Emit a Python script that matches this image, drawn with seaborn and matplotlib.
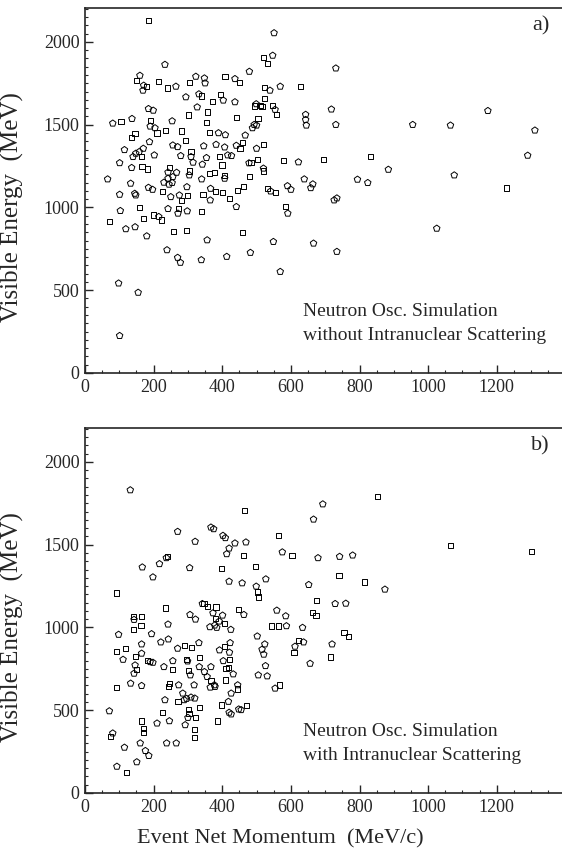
import pandas as pd
import matplotlib.pyplot as plt
import seaborn as sns
from matplotlib.ticker import MultipleLocator

# Panel a) data: momentum (MeV/c), visible energy (MeV), marker kind
a_x = [184, 551, 547, 521, 531, 233, 731, 479, 323, 348, 408, 437, 450, 350, 304, 215, 160, 150, 171, 179,
       169, 240, 265, 627, 569, 523, 539, 523, 332, 340, 294, 395, 403, 371, 437, 499, 495, 516, 511, 547,
       554, 559, 718, 643, 643, 645, 327, 356, 185, 199, 302, 441, 504, 500, 493, 488, 354, 254, 192, 137,
       105, 81, 190, 204, 210, 234, 281, 362, 389, 409, 467, 146, 135, 292, 188, 382, 346, 407, 441, 460,
       452, 256, 270, 520, 500, 115, 170, 158, 148, 140, 165, 202, 309, 309, 354, 279, 392, 416, 427, 832,
       1290, 502, 478, 315, 342, 399, 579, 622, 695, 136, 166, 183, 247, 484, 520, 521, 304, 304, 364, 377,
       406, 407, 480, 884, 1076, 242, 267, 256, 242, 245, 254, 230, 340, 66, 133, 639, 664, 658, 794, 824,
       1229, 590, 600, 463, 297, 366, 531, 541, 555, 197, 185, 226, 380, 401, 445, 101, 145, 148, 344, 250,
       275, 298, 365, 420, 281, 734, 726, 273, 242, 271, 158, 103, 298, 340, 441, 585, 591, 200, 215, 170,
       223, 72, 119, 146, 259, 297, 460, 180, 1025, 356, 549, 666, 239, 482, 734, 270, 278, 339, 413, 569,
       98, 155, 101, 955, 1065, 1174, 1311, 731, 101]
a_y = [2128, 2054, 1918, 1904, 1868, 1863, 1841, 1821, 1791, 1781, 1791, 1777, 1753, 1751, 1753, 1761, 1797, 1767, 1737, 1731,
       1707, 1721, 1731, 1733, 1731, 1723, 1707, 1657, 1685, 1673, 1667, 1681, 1647, 1641, 1637, 1625, 1613, 1608, 1616, 1616,
       1591, 1561, 1593, 1561, 1530, 1496, 1606, 1576, 1596, 1586, 1558, 1542, 1536, 1496, 1500, 1480, 1514, 1522, 1526, 1536,
       1520, 1508, 1490, 1480, 1450, 1466, 1462, 1454, 1450, 1438, 1436, 1446, 1422, 1406, 1396, 1380, 1371, 1364, 1374, 1390,
       1356, 1376, 1366, 1380, 1356, 1348, 1356, 1336, 1326, 1306, 1310, 1316, 1340, 1306, 1300, 1312, 1310, 1316, 1312, 1310,
       1314, 1288, 1268, 1272, 1260, 1256, 1284, 1274, 1290, 1240, 1246, 1232, 1240, 1270, 1236, 1220, 1220, 1195, 1205, 1211,
       1191, 1175, 1189, 1229, 1195, 1212, 1211, 1185, 1175, 1139, 1149, 1151, 1171, 1171, 1145, 1171, 1141, 1118, 1169, 1149,
       1118, 1130, 1108, 1126, 1124, 1114, 1112, 1098, 1092, 1108, 1120, 1094, 1098, 1088, 1100, 1078, 1084, 1074, 1078, 1064,
       1074, 1074, 1044, 1056, 1044, 1056, 1044, 994, 992, 964, 1002, 980, 978, 974, 1004, 1004, 964, 954, 944, 934,
       924, 914, 870, 882, 857, 859, 851, 827, 873, 803, 793, 783, 743, 727, 733, 697, 667, 683, 703, 612,
       542, 486, 225, 1500, 1496, 1584, 1466, 1500, 1269]
a_kind = list("sppsspppppsps" "psspspspspsps" "pspspspsppsss" "spspppppspps" "sspppspsps" "pppsssspppss"
              "spppppssppsp" "pppppspsppp" "sppspspppssp" "spsssspsspsssp" "spppppppppppp" "pppppsppspp" "spsppsss"
              "spppsppspssp" "psppsppspsp" "spsssppsss")

# Panel b) data
b_x = [132, 853, 693, 464, 666, 270, 367, 375, 321, 402, 409, 437, 420, 413, 469, 565, 575, 603, 463, 679,
       742, 780, 1066, 1301, 240, 237, 217, 167, 305, 198, 398, 498, 527, 499, 502, 505, 420, 458, 652, 740,
       814, 874, 91, 234, 347, 342, 357, 306, 322, 382, 373, 401, 381, 391, 378, 364, 384, 407, 425, 448,
       463, 559, 585, 674, 729, 760, 662, 673, 544, 565, 587, 634, 502, 524, 516, 521, 526, 505, 531, 554,
       567, 623, 637, 612, 609, 656, 720, 716, 755, 767, 141, 143, 165, 163, 141, 98, 194, 165, 221, 243,
       242, 93, 117, 111, 147, 165, 146, 150, 143, 182, 190, 198, 230, 256, 255, 93, 133, 165, 270, 289,
       310, 332, 295, 299, 333, 301, 307, 333, 348, 367, 318, 356, 367, 377, 365, 379, 246, 244, 273, 285,
       419, 411, 403, 420, 421, 392, 406, 423, 432, 409, 445, 444, 426, 398, 418, 420, 426, 448, 455, 470,
       385, 320, 309, 296, 289, 271, 333, 301, 303, 300, 323, 319, 292, 318, 233, 226, 246, 210, 164, 171,
       171, 161, 238, 266, 176, 186, 115, 151, 93, 122, 71, 81, 75]
b_y = [1830, 1789, 1745, 1705, 1653, 1579, 1605, 1595, 1519, 1555, 1541, 1509, 1478, 1444, 1515, 1555, 1455, 1434, 1434, 1420,
       1428, 1436, 1496, 1458, 1430, 1420, 1384, 1364, 1360, 1304, 1358, 1368, 1292, 1248, 1214, 1184, 1278, 1268, 1258, 1312,
       1274, 1230, 1208, 1117, 1147, 1143, 1127, 1077, 1049, 1123, 1087, 1073, 1053, 1037, 1013, 1003, 999, 1023, 987, 1109,
       1077, 1103, 1069, 1163, 1143, 1145, 1089, 1073, 1009, 1009, 1009, 999, 947, 899, 867, 837, 768, 712, 706, 632,
       652, 923, 911, 885, 849, 782, 899, 822, 969, 947, 1067, 1047, 1067, 1013, 989, 957, 961, 899, 911, 929,
       1019, 857, 871, 806, 823, 843, 772, 748, 722, 798, 792, 788, 762, 798, 746, 638, 662, 648, 873, 889,
       879, 907, 807, 796, 816, 742, 712, 762, 732, 762, 652, 702, 678, 652, 638, 642, 662, 642, 652, 602,
       758, 752, 798, 806, 849, 863, 883, 907, 718, 682, 652, 628, 602, 532, 552, 486, 476, 506, 502, 526,
       435, 572, 578, 570, 562, 552, 518, 506, 481, 455, 455, 385, 411, 337, 562, 486, 435, 421, 435, 391,
       365, 301, 301, 301, 255, 225, 275, 187, 160, 126, 495, 361, 341]
b_kind = list("pspspppppppppppspsspppssspppppssppsspppss" "pssspsppsppsppppspspppsppssssppppppp"
              "pppssppsppsssspsssppppppsspsppsps" "ppppsspppsspspsspppp" "ppspppssppsspsppsppspsps"
              "pppppssppppsssspssps" "psppsssp" "ppppppps" "pps")

a_kind = a_kind[:len(a_x)] + ["p"] * (len(a_x) - len(a_kind))
b_kind = b_kind[:len(b_x)] + ["p"] * (len(b_x) - len(b_kind))

df_a = pd.DataFrame({"mom": a_x, "evis": a_y, "kind": a_kind})
df_b = pd.DataFrame({"mom": b_x, "evis": b_y, "kind": b_kind})

sns.set_style("ticks")
plt.rcParams["font.family"] = ["Liberation Serif", "DejaVu Serif"]

fig = plt.figure(figsize=(5.62, 8.49), dpi=100)
ax_a = fig.add_axes([0.1512, 0.5607, 0.8488, 0.4299])
ax_b = fig.add_axes([0.1512, 0.0660, 0.8488, 0.4299])

panels = [(ax_a, df_a, "a)", "Neutron Osc. Simulation\nwithout Intranuclear Scattering"),
          (ax_b, df_b, "b)", "Neutron Osc. Simulation\nwith Intranuclear Scattering")]

for ax, df, tag, note in panels:
    # open squares and open pentagons
    sns.scatterplot(data=df[df["kind"] == "s"], x="mom", y="evis", marker="s",
                    color="black", s=14, linewidth=0.7, ax=ax)
    sns.scatterplot(data=df[df["kind"] == "p"], x="mom", y="evis", marker="p",
                    color="black", s=24, linewidth=0.7, ax=ax)
    for coll in ax.collections:
        coll.set_facecolor("none")
        coll.set_edgecolor("black")
    ax.set_xlim(0, 1390)
    ax.set_ylim(0, 2205)
    ax.xaxis.set_major_locator(MultipleLocator(200))
    ax.xaxis.set_minor_locator(MultipleLocator(50))
    ax.yaxis.set_major_locator(MultipleLocator(500))
    ax.yaxis.set_minor_locator(MultipleLocator(50))
    ax.tick_params(which="major", direction="in", length=6, width=1, labelsize=13, pad=4)
    ax.tick_params(which="minor", direction="in", length=2.5, width=0.8)
    ax.spines["right"].set_visible(False)
    for sp in ["top", "left", "bottom"]:
        ax.spines[sp].set_linewidth(1.2)
    ax.set_ylabel("Visible Energy  (MeV)", fontsize=18)
    ax.yaxis.set_label_coords(-0.128, 0.455)
    ax.set_xlabel("")
    ax.text(1328, 2095, tag, fontsize=16, ha="center", va="center")
    ax.text(635, 300, note, fontsize=14, ha="left", va="center", linespacing=1.55)

ax_b.set_xlabel("Event Net Momentum  (MeV/c)", fontsize=16)
ax_b.xaxis.set_label_coords(0.41, -0.1)

fig.savefig("out.png", dpi=100)
